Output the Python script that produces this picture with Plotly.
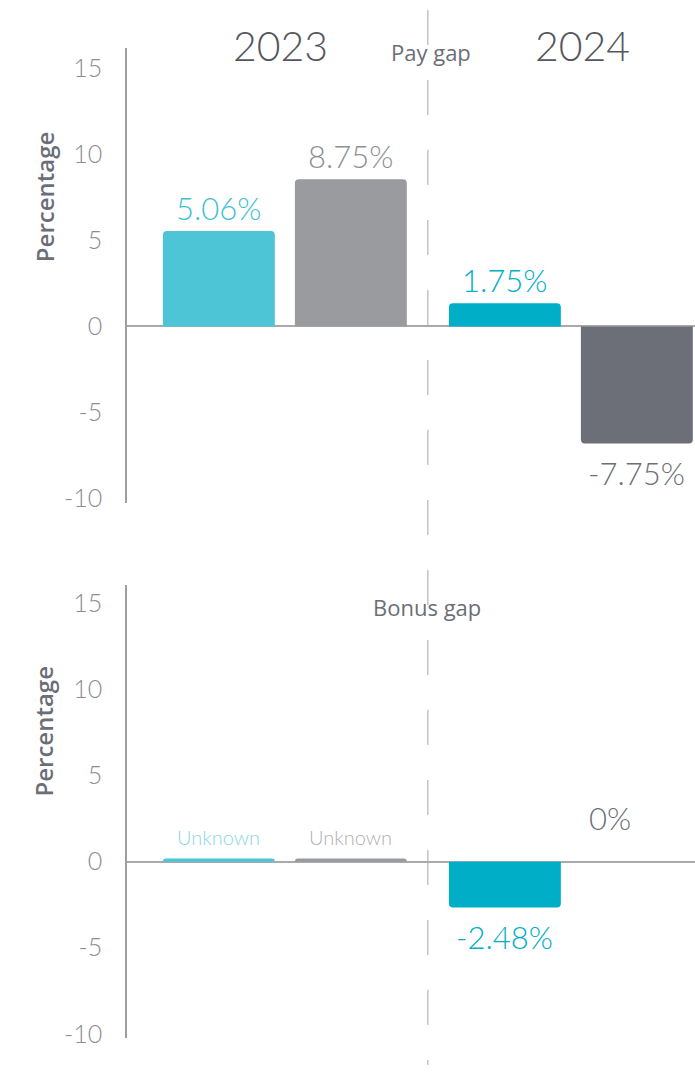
import plotly.graph_objects as go

# Data
years = ["2023", "2024"]

pay_first = [5.55, 1.34]        # teal bars
pay_second = [8.57, -6.82]      # grey bars
pay_first_labels = ["5.06%", "1.75%"]
pay_second_labels = ["8.75%", "-7.75%"]

bonus_first = [0.19, -2.67]
bonus_second = [0.19, 0.0]
bonus_first_labels = ["Unknown", "-2.48%"]
bonus_second_labels = ["Unknown", "0%"]

tick_vals = [-10, -5, 0, 5, 10, 15]
tick_text = ["-10", "-5", "0", "5", "10", "15"]

# Colours
FIRST_COLORS = ["#4EC5D6", "#00AFC7"]
SECOND_COLORS = ["#9A9B9F", "#6C6F77"]
FIRST_LABEL_COLORS = ["#3EC0D3", "#00AEC7"]
SECOND_LABEL_COLORS = ["#8E8F94", "#6C6F77"]
UNKNOWN_COLORS = ["#8AD7E3", "#AEAFB3"]

LIGHT = "Lato"

W = 695
H = 1075
YS = 0.99   # the capture comes out about 1% shorter than the page


def px_x(sx):
    return sx / W


def px_y(sy):
    return 1 - (sy / YS) / H


fig = go.Figure()

panels = [
    ("x", "y", pay_first, pay_second, pay_first_labels, pay_second_labels),
    ("x2", "y2", bonus_first, bonus_second, bonus_first_labels, bonus_second_labels),
]

for xref, yref, first, second, first_lab, second_lab in panels:
    fig.add_trace(go.Bar(
        x=years, y=first, xaxis=xref, yaxis=yref,
        marker=dict(color=FIRST_COLORS, cornerradius=4, line_width=0),
        showlegend=False, hoverinfo="skip",
    ))
    fig.add_trace(go.Bar(
        x=years, y=second, xaxis=xref, yaxis=yref,
        marker=dict(color=SECOND_COLORS, cornerradius=4, line_width=0),
        showlegend=False, hoverinfo="skip",
    ))

    # value labels above / below each bar
    for side, vals, labs, shift in ((0, first, first_lab, -66), (1, second, second_lab, 66)):
        for i, (v, lab) in enumerate(zip(vals, labs)):
            if lab == "Unknown":
                color = UNKNOWN_COLORS[side]
                size = 20
                yshift = 21
                xshift = shift
            else:
                color = FIRST_LABEL_COLORS[i] if side == 0 else SECOND_LABEL_COLORS[i]
                size = 31
                if v > 0:
                    yshift = 23
                elif v < 0:
                    yshift = -29
                else:
                    yshift = 44
                xshift = shift if v != 0 else shift - 27
            fig.add_annotation(
                x=i, y=v, xref=xref, yref=yref,
                xshift=xshift, yshift=yshift, yanchor="middle",
                text=lab, showarrow=False,
                font=dict(family=LIGHT, size=size, color=color, weight=300),
            )

# dashed divider between years
fig.add_shape(
    type="line", xref="x", yref="paper",
    x0=0.5, x1=0.5, y0=px_y(10), y1=0,
    line=dict(color="#A5A6AA", width=1, dash="35px,35px"),
    layer="below",
)

# year headers
for yr, sx in ((years[0], 280), (years[1], 582)):
    fig.add_annotation(
        x=px_x(sx), y=px_y(45), xref="paper", yref="paper",
        text=yr, showarrow=False, xanchor="center", yanchor="middle",
        font=dict(family=LIGHT, size=41, color="#55575E", weight=300),
    )

# panel titles
for title, sx, sy in (("Pay gap", 431, 52), ("Bonus gap", 427, 607)):
    fig.add_annotation(
        x=px_x(sx), y=px_y(sy), xref="paper", yref="paper",
        text=title, showarrow=False, xanchor="center", yanchor="middle",
        font=dict(family="Open Sans", size=22, color="#6B6E76", weight=500),
    )

# axis titles
for sy in (197, 731):
    fig.add_annotation(
        x=px_x(44), y=px_y(sy), xref="paper", yref="paper",
        text="Percentage", showarrow=False, textangle=-90,
        xanchor="center", yanchor="middle",
        font=dict(family="Open Sans", size=24, color="#6B6E76", weight=600),
    )

xaxis_style = dict(
    type="category", range=[-0.552, 1.434], domain=[px_x(127), 1],
    visible=False, showgrid=False, fixedrange=True,
)
yaxis_style = dict(
    tickvals=tick_vals, ticktext=tick_text, ticks="",
    showline=True, linecolor="#9C9DA1", linewidth=1.5,
    zeroline=True, zerolinecolor="#A9AAAE", zerolinewidth=1.5,
    showgrid=False, ticklabelstandoff=18, fixedrange=True,
    tickfont=dict(family=LIGHT, size=25, color="#8C8D92", weight=300),
)

fig.update_layout(
    width=W, height=H,
    margin=dict(l=0, r=0, t=0, b=0),
    paper_bgcolor="white", plot_bgcolor="white",
    barmode="group", bargap=0.077, bargroupgap=0.152,
    xaxis=dict(xaxis_style, anchor="y"),
    xaxis2=dict(xaxis_style, anchor="y2"),
    yaxis=dict(yaxis_style, range=[-10.3, 16.2], domain=[px_y(503), px_y(48)], anchor="x"),
    yaxis2=dict(yaxis_style, range=[-10.23, 16.05], domain=[px_y(1037), px_y(585)], anchor="x2"),
)

# drop the default page margin so the figure sits at the window corner
fig.write_html(
    "out.html",
    config={"displayModeBar": False},
    post_script="document.body.style.margin = '0';",
)
